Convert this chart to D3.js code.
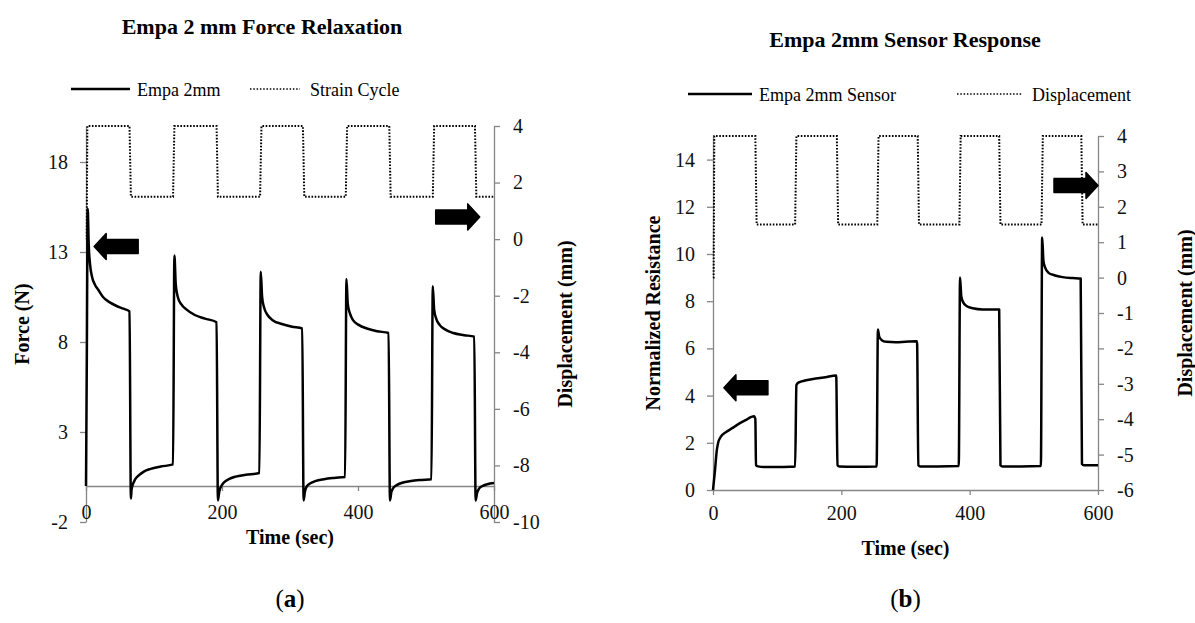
<!DOCTYPE html>
<html>
<head>
<meta charset="utf-8">
<script src="https://cdn.jsdelivr.net/npm/d3@7"></script>
<style>
  body { margin: 0; background: #fff; }
  svg { display: block; }
</style>
</head>
<body>
<script>
"use strict";

// ---- data ----
var timeTicks = [0, 200, 400, 600];

// (a) force relaxation, [sec, N]
var forceData = [
  [0, 0], [1.2, 7], [2.5, 15.4], [4, 13.4], [6, 12.3], [9, 11.6], [13, 11.2], [18, 10.9],
  [25, 10.5], [35, 10.2], [45, 10.0], [55, 9.85], [64, 9.7],
  [66, -0.7], [67, -0.2], [69, 0.1], [72, 0.35], [78, 0.6], [85, 0.8], [95, 0.95], [110, 1.08], [128, 1.2],
  [130, 12.8], [132, 11.2], [135, 10.5], [140, 10.1], [148, 9.8], [160, 9.5], [175, 9.3], [192, 9.1],
  [194, -0.8], [196, -0.3], [199, 0], [203, 0.2], [210, 0.38], [220, 0.52], [235, 0.62], [255, 0.72],
  [257, 11.9], [259, 10.5], [262, 9.9], [267, 9.5], [275, 9.2], [288, 9.0], [303, 8.85], [318, 8.75],
  [320, -0.8], [322, -0.3], [325, 0], [330, 0.15], [337, 0.27], [350, 0.38], [365, 0.45], [381, 0.5],
  [383, 11.5], [385, 10.1], [388, 9.6], [393, 9.2], [401, 8.95], [413, 8.75], [428, 8.6], [445, 8.5],
  [447, -0.8], [449, -0.35], [452, -0.1], [457, 0.05], [465, 0.18], [478, 0.28], [494, 0.34], [508, 0.38],
  [510, 11.1], [512, 9.8], [515, 9.3], [520, 8.95], [528, 8.7], [540, 8.5], [556, 8.38], [571, 8.3],
  [573, -0.8], [575, -0.4], [578, -0.15], [583, 0.0], [590, 0.1], [600, 0.17]
];
var forceTicks = [-2, 3, 8, 13, 18];

// (a) strain cycle, [sec, mm]
var strainData = [
  [0, 0], [1, 0], [2, 4], [64, 4], [66, 1.5], [128, 1.5], [130, 4], [192, 4], [194, 1.5],
  [256, 1.5], [258, 4], [319, 4], [321, 1.5], [382, 1.5], [384, 4], [446, 4], [448, 1.5],
  [510, 1.5], [512, 4], [572, 4], [574, 1.5], [600, 1.5]
];
var strainTicks = [-10, -8, -6, -4, -2, 0, 2, 4];

// (b) sensor response, [sec, normalized resistance]
var sensorData = [
  [0, 0], [3, 0.8], [6, 1.7], [8, 2.0], [12, 2.25], [21, 2.47], [30, 2.62], [37, 2.75], [50, 2.95], [64, 3.12],
  [66, 3.0], [67, 1.05], [70, 1.0], [80, 0.97], [100, 0.97], [120, 0.98], [128, 1.0],
  [130, 4.45], [133, 4.55], [145, 4.65], [160, 4.72], [175, 4.78], [192, 4.85],
  [194, 1.05], [197, 1.0], [220, 0.99], [255, 1.0],
  [257, 6.8], [259, 6.5], [263, 6.35], [270, 6.28], [285, 6.26], [300, 6.28], [318, 6.3],
  [320, 1.05], [323, 1.0], [350, 1.0], [383, 1.02],
  [385, 9.0], [387, 8.2], [390, 7.95], [395, 7.8], [405, 7.7], [420, 7.65], [446, 7.65],
  [448, 1.05], [451, 1.0], [480, 1.0], [511, 1.02],
  [513, 10.7], [515, 9.7], [518, 9.4], [523, 9.2], [532, 9.1], [545, 9.02], [560, 8.98], [573, 8.96],
  [575, 1.1], [578, 1.05], [600, 1.05]
];
var sensorTicks = [0, 2, 4, 6, 8, 10, 12, 14];

// (b) displacement, [sec, mm]
var dispData = [
  [0, 0], [1, 0], [2, 4], [66, 4], [68, 1.5], [128, 1.5], [130, 4], [193, 4], [195, 1.5],
  [256, 1.5], [258, 4], [319, 4], [321, 1.5], [384, 1.5], [386, 4], [446, 4], [448, 1.5],
  [512, 1.5], [514, 4], [574, 4], [576, 1.5], [600, 1.5]
];
var dispTicks = [-6, -5, -4, -3, -2, -1, 0, 1, 2, 3, 4];

var serif = "'Liberation Serif', 'Times New Roman', serif";
var gray = "#868686";
var plain = function(d) { return String(d); };

var svg = d3.select("body").append("svg")
  .attr("width", 1195)
  .attr("height", 623);

var drawArrow = function(g, tipX, tipY, dir) {
  // block arrow, tip at (tipX, tipY)
  var s = dir === "left" ? 1 : -1;
  var len = 44, head = 12, hh = 13, bh = 7;
  var pts = [
    [tipX, tipY],
    [tipX + s * head, tipY - hh],
    [tipX + s * head, tipY - bh],
    [tipX + s * len, tipY - bh],
    [tipX + s * len, tipY + bh],
    [tipX + s * head, tipY + bh],
    [tipX + s * head, tipY + hh]
  ];
  g.append("path")
    .attr("d", "M" + pts.join("L") + "Z")
    .attr("fill", "#000")
    .attr("stroke", "#000")
    .attr("stroke-width", 1.5)
    .attr("stroke-linejoin", "round");
};

var styleAxis = function(sel) {
  sel.attr("font-size", 20).attr("font-family", serif);
  sel.select(".domain").attr("stroke", gray).attr("stroke-width", 1.3);
  sel.selectAll(".tick line").attr("stroke", gray).attr("stroke-width", 1.3);
  sel.selectAll(".tick text").attr("fill", "#111");
};

var drawChart = function(o) {
  var g = svg.append("g");

  var x = d3.scaleLinear().domain([0, 600]).range([o.left, o.right]);
  var yL = d3.scaleLinear().domain(o.leftDomain).range([o.bottom, o.top]);
  var yR = d3.scaleLinear().domain(o.rightDomain).range([o.bottom, o.top]);

  // axes
  g.append("g")
    .attr("transform", "translate(" + o.left + ",0)")
    .call(d3.axisLeft(yL).tickValues(o.leftTicks).tickFormat(plain)
      .tickSize(6).tickSizeOuter(0).tickPadding(12))
    .call(styleAxis);

  g.append("g")
    .attr("transform", "translate(" + o.right + ",0)")
    .call(d3.axisRight(yR).tickValues(o.rightTicks).tickFormat(plain)
      .tickSize(6).tickSizeOuter(0).tickPadding(13))
    .call(styleAxis);

  var xAxisY = yL(o.xCross);
  g.append("g")
    .attr("transform", "translate(0," + xAxisY + ")")
    .call(d3.axisBottom(x).tickValues(timeTicks).tickFormat(plain)
      .tickSize(5).tickSizeOuter(0)
      .tickPadding(o.labelBaseline - xAxisY - 5 - 14.2))
    .call(styleAxis);

  // series
  var solid = d3.line()
    .x(function(d) { return x(d[0]); })
    .y(function(d) { return yL(d[1]); })
    .curve(d3.curveMonotoneX);

  var dotted = d3.line()
    .x(function(d) { return x(d[0]); })
    .y(function(d) { return yR(d[1]); });

  g.append("path")
    .datum(o.rightData)
    .attr("d", dotted)
    .attr("fill", "none")
    .attr("stroke", "#000")
    .attr("stroke-width", 2)
    .attr("stroke-dasharray", "1.6,1.6");

  g.append("path")
    .datum(o.leftData)
    .attr("d", solid)
    .attr("fill", "none")
    .attr("stroke", "#000")
    .attr("stroke-width", 2.5)
    .attr("stroke-linejoin", "round");

  // arrows
  o.arrows.forEach(function(a) {
    drawArrow(g, x(a.t), yL(a.v), a.dir);
  });

  // titles
  var cx = (o.left + o.right) / 2;
  var cy = (o.top + o.bottom) / 2;

  g.append("text")
    .attr("x", o.titleX).attr("y", o.titleY)
    .attr("text-anchor", "middle")
    .attr("font-family", serif).attr("font-size", 22).attr("font-weight", "bold")
    .text(o.title);

  g.append("text")
    .attr("x", cx).attr("y", o.xTitleY)
    .attr("text-anchor", "middle")
    .attr("font-family", serif).attr("font-size", 20).attr("font-weight", "bold")
    .text("Time (sec)");

  g.append("text")
    .attr("transform", "translate(" + o.leftTitleX + "," + cy + ") rotate(-90)")
    .attr("text-anchor", "middle").attr("dy", "0.35em")
    .attr("font-family", serif).attr("font-size", 20).attr("font-weight", "bold")
    .text(o.leftTitle);

  g.append("text")
    .attr("transform", "translate(" + o.rightTitleX + "," + cy + ") rotate(-90)")
    .attr("text-anchor", "middle").attr("dy", "0.35em")
    .attr("font-family", serif).attr("font-size", 20).attr("font-weight", "bold")
    .text(o.rightTitle);

  // legend
  var lg = o.legend;
  g.append("line")
    .attr("x1", lg.x1).attr("x2", lg.x1 + lg.len).attr("y1", lg.y).attr("y2", lg.y)
    .attr("stroke", "#000").attr("stroke-width", 2.5);
  g.append("text")
    .attr("x", lg.x1 + lg.len + 7).attr("y", lg.y + 7)
    .attr("font-family", serif).attr("font-size", 18)
    .text(lg.leftLabel);
  g.append("line")
    .attr("x1", lg.x2).attr("x2", lg.x2 + lg.len2).attr("y1", lg.y).attr("y2", lg.y)
    .attr("stroke", "#000").attr("stroke-width", 1.6).attr("stroke-dasharray", "1.5,1.8");
  g.append("text")
    .attr("x", lg.x2 + lg.len2 + 10).attr("y", lg.y + 7)
    .attr("font-family", serif).attr("font-size", 18)
    .text(lg.rightLabel);

  // panel label
  var pl = g.append("text")
    .attr("x", cx).attr("y", 607)
    .attr("text-anchor", "middle")
    .attr("font-family", serif).attr("font-size", 25);
  pl.append("tspan").text("(");
  pl.append("tspan").attr("font-weight", "bold").text(o.panel);
  pl.append("tspan").text(")");
};

drawChart({
  left: 86, right: 494, top: 126, bottom: 522,
  leftDomain: [-2, 20], rightDomain: [-10, 4],
  leftTicks: forceTicks, rightTicks: strainTicks,
  xCross: 0, labelBaseline: 519,
  leftData: forceData, rightData: strainData,
  arrows: [{ t: 12, v: 13.3, dir: "left" }, { t: 579, v: 14.95, dir: "right" }],
  title: "Empa 2 mm Force Relaxation", titleX: 262, titleY: 34,
  xTitleY: 544, leftTitle: "Force (N)", leftTitleX: 22,
  rightTitle: "Displacement (mm)", rightTitleX: 565,
  legend: { x1: 71, len: 59, x2: 250, len2: 50, y: 89, leftLabel: "Empa 2mm", rightLabel: "Strain Cycle" },
  panel: "a"
});

drawChart({
  left: 713, right: 1098, top: 136, bottom: 490,
  leftDomain: [0, 15], rightDomain: [-6, 4],
  leftTicks: sensorTicks, rightTicks: dispTicks,
  xCross: 0, labelBaseline: 520,
  leftData: sensorData, rightData: dispData,
  arrows: [{ t: 17, v: 4.33, dir: "left" }, { t: 600, v: 12.9, dir: "right" }],
  title: "Empa 2mm Sensor Response", titleX: 905, titleY: 47,
  xTitleY: 555, leftTitle: "Normalized Resistance", leftTitleX: 653,
  rightTitle: "Displacement (mm)", rightTitleX: 1185,
  legend: { x1: 688, len: 64, x2: 957, len2: 65, y: 94, leftLabel: "Empa 2mm Sensor", rightLabel: "Displacement" },
  panel: "b"
});
</script>
</body>
</html>
